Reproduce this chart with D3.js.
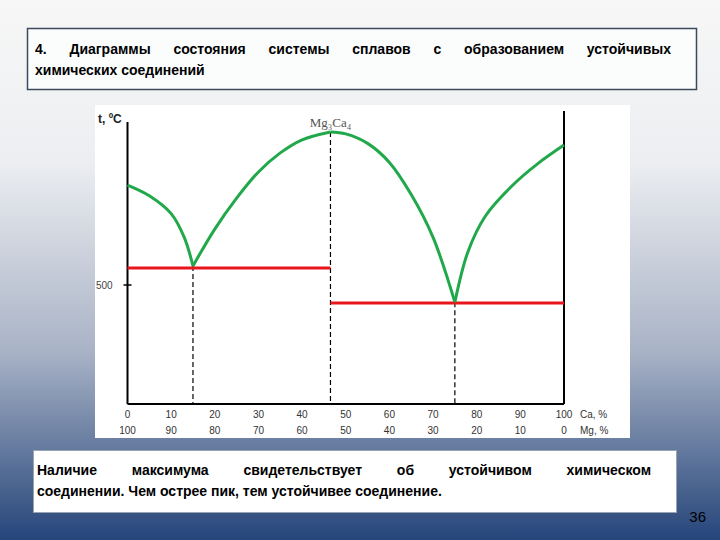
<!DOCTYPE html>
<html>
<head>
<script src="https://cdn.jsdelivr.net/npm/d3@7"></script>
<style>body{margin:0}</style>
</head>
<body>
<svg width="720" height="540" id="mainsvg"></svg>
<script>
// Ca % along the bottom, Mg % underneath
const caTicks = [0, 10, 20, 30, 40, 50, 60, 70, 80, 90, 100];
const mgTicks = [100, 90, 80, 70, 60, 50, 40, 30, 20, 10, 0];
// liquidus branches (Ca %, t °C)
const branch1 = [[0, 920], [5, 875], [10, 800], [13, 700], [15, 580]];
const branch2 = [[15, 580], [20, 735], [25, 865], [30, 975], [35, 1055], [40, 1110], [46.5, 1143]];
const branch3 = [[46.5, 1143], [50, 1135], [55, 1095], [60, 1015], [65, 880], [70, 700], [75, 428]];
const branch4 = [[75, 428], [78, 640], [82, 790], [88, 915], [94, 1010], [100, 1088]];
// eutectic lines
const eutectics = [{x0: 0, x1: 46.5, t: 571}, {x0: 46.5, x1: 100, t: 424}];
const dashes = [15, 46.5, 75];
const dashTops = [580, 1143, 428];
const compound = "Mg₃Ca₄";

const svg = d3.select('svg');
const defs = svg.append('defs');
const g1 = defs.append('linearGradient').attr('id', 'bg').attr('x1', 0).attr('y1', 0).attr('x2', 0).attr('y2', 1);
g1.append('stop').attr('offset', '0%').attr('stop-color', '#f7f7f7');
g1.append('stop').attr('offset', '30%').attr('stop-color', '#eceef1');
g1.append('stop').attr('offset', '65%').attr('stop-color', '#a9b3c6');
g1.append('stop').attr('offset', '100%').attr('stop-color', '#25457a');
svg.append('rect').attr('width', 720).attr('height', 540).attr('fill', 'url(#bg)');

const tf = "'Liberation Sans', Arial, sans-serif";
// justified line: spread words between x0 and x1
function justify(str, x0, x1, yy) {
  const words = str.split(' ');
  const t = svg.append('g').attr('font-family', tf).attr('font-weight', 'bold').attr('font-size', 14);
  const nodes = words.map(w => t.append('text').attr('y', yy).text(w));
  const widths = nodes.map(n => n.node().getComputedTextLength());
  const gap = (x1 - x0 - d3.sum(widths)) / (words.length - 1);
  let cx = x0;
  nodes.forEach((n, i) => { n.attr('x', cx); cx += widths[i] + gap; });
}
function plain(str, x0, yy) {
  svg.append('text').attr('x', x0).attr('y', yy).attr('font-family', tf).attr('font-weight', 'bold')
    .attr('font-size', 14).text(str);
}

// title box
svg.append('rect').attr('x', 27.5).attr('y', 28.5).attr('width', 669).attr('height', 61)
  .attr('fill', '#fbfdfd').attr('stroke', '#3d4a5c').attr('stroke-width', 1.5);
justify('4. Диаграммы состояния системы сплавов с образованием устойчивых', 35, 671, 54);
plain('химических  соединений', 35, 75);

// chart panel
svg.append('rect').attr('x', 95).attr('y', 105).attr('width', 535).attr('height', 333).attr('fill', '#fff');

const x = d3.scaleLinear().domain([0, 100]).range([127.5, 564]);
const y = d3.scaleLinear().domain([0, 500]).range([404, 285]);

const ax = svg.append('g').attr('font-family', 'Arial, sans-serif').attr('font-size', 10).attr('fill', '#333');
ax.append('line').attr('x1', x(0)).attr('x2', x(0)).attr('y1', 122).attr('y2', y(0)).attr('stroke', '#000').attr('stroke-width', 2);
ax.append('line').attr('x1', x(100)).attr('x2', x(100)).attr('y1', 111).attr('y2', y(0)).attr('stroke', '#000').attr('stroke-width', 2);
ax.append('line').attr('x1', x(0)).attr('x2', x(100)).attr('y1', y(0)).attr('y2', y(0)).attr('stroke', '#000').attr('stroke-width', 2);
ax.append('line').attr('x1', x(0) - 4).attr('x2', x(0) + 4).attr('y1', y(500)).attr('y2', y(500)).attr('stroke', '#000').attr('stroke-width', 1.5);
ax.append('text').attr('x', 96).attr('y', y(500) + 4).attr('fill', '#444').text('500');
ax.append('text').attr('x', 98).attr('y', 123).attr('font-weight', 'bold').attr('font-size', 12).attr('fill', '#222').text('t, ºC');
ax.selectAll('.ca').data(caTicks).join('text').attr('x', d => x(d)).attr('y', y(0) + 14)
  .attr('text-anchor', 'middle').text(d => d);
ax.selectAll('.mg').data(mgTicks).join('text').attr('x', (d, i) => x(caTicks[i])).attr('y', y(0) + 30)
  .attr('text-anchor', 'middle').text(d => d);
ax.append('text').attr('x', 580).attr('y', y(0) + 14).text('Ca, %');
ax.append('text').attr('x', 580).attr('y', y(0) + 30).text('Mg, %');

svg.selectAll('.dash').data(dashes).join('line')
  .attr('x1', d => x(d)).attr('x2', d => x(d)).attr('y1', (d, i) => y(dashTops[i])).attr('y2', y(0))
  .attr('stroke', '#000').attr('stroke-width', 1.2).attr('stroke-dasharray', '5,3');

svg.selectAll('.eu').data(eutectics).join('line')
  .attr('x1', d => x(d.x0)).attr('x2', d => x(d.x1)).attr('y1', d => y(d.t)).attr('y2', d => y(d.t))
  .attr('stroke', '#e8151b').attr('stroke-width', 3);

const line = d3.line().x(d => x(d[0])).y(d => y(d[1])).curve(d3.curveCatmullRom.alpha(0.5));
svg.selectAll('.liq').data([branch1, branch2, branch3, branch4]).join('path')
  .attr('d', line).attr('fill', 'none').attr('stroke', '#21a84a').attr('stroke-width', 3);

svg.append('text').attr('x', x(46.5)).attr('y', 127).attr('text-anchor', 'middle')
  .attr('font-family', "'Liberation Serif', serif").attr('font-size', 13).attr('fill', '#555').text(compound);

// bottom note
svg.append('rect').attr('x', 33.5).attr('y', 450.5).attr('width', 643).attr('height', 62)
  .attr('fill', '#fff').attr('stroke', '#9aa3b0');
justify('Наличие максимума свидетельствует об устойчивом химическом', 37, 651, 475);
plain('соединении. Чем острее пик, тем устойчивее соединение.', 37, 496);
svg.append('text').attr('x', 706).attr('y', 522).attr('text-anchor', 'end').attr('font-family', tf)
  .attr('font-size', 15).attr('fill', '#000').text('36');
</script>
</body>
</html>
